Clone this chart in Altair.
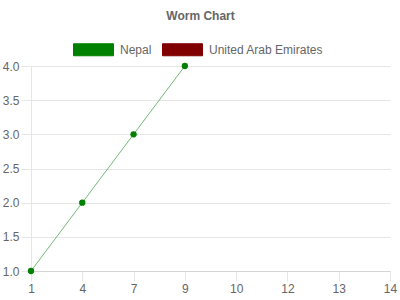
import altair as alt
import pandas as pd

categories = ["1", "4", "7", "9", "10", "12", "13", "14"]
nepal = [1, 2, 3, 4, None, None, None, None]
uae = [None, None, None, None, None, None, None, None]
series_names = ["Nepal", "United Arab Emirates"]
series_colors = ["#008000", "#800000"]

rows = []
for i, c in enumerate(categories):
    rows.append({"cat": c, "series": "Nepal", "value": nepal[i]})
    rows.append({"cat": c, "series": "United Arab Emirates", "value": uae[i]})
df = pd.DataFrame(rows)
df_valid = df.dropna(subset=["value"])

FONT = "Liberation Sans"
GREY = "#666666"

x_enc = alt.X(
    "cat:O",
    sort=categories,
    scale=alt.Scale(domain=categories, type="point", padding=0),
    axis=alt.Axis(
        title=None, labelAngle=0, grid=False, domain=True, domainColor="#d4d4d4",
        ticks=True, tickColor="#e6e6e6", tickSize=10, labelPadding=2,
        labelFont=FONT, labelFontSize=12, labelColor=GREY,
    ),
)
y_enc = alt.Y(
    "value:Q",
    scale=alt.Scale(domain=[1, 4], nice=False, zero=False),
    axis=alt.Axis(
        title=None, values=[1, 1.5, 2, 2.5, 3, 3.5, 4], format=".1f",
        grid=True, gridColor="#e6e6e6", domain=True, domainColor="#e6e6e6",
        ticks=True, tickColor="#e6e6e6", tickSize=10, labelPadding=2,
        labelFont=FONT, labelFontSize=12, labelColor=GREY,
    ),
)
color_enc = alt.Color(
    "series:N",
    scale=alt.Scale(domain=series_names, range=series_colors),
    legend=alt.Legend(
        title=None, orient="none", direction="horizontal",
        legendX=42, legendY=-37, padding=0,
        symbolType="M-1,-0.3H1V0.3H-1Z", symbolSize=1600,
        symbolStrokeWidth=1, symbolOpacity=1,
        labelFont=FONT, labelFontSize=12, labelColor=GREY,
        labelOffset=6, columnPadding=8,
    ),
)

lines = alt.Chart(df_valid).mark_line(strokeWidth=1, opacity=0.55).encode(
    x=x_enc, y=y_enc, color=color_enc, detail="series:N"
)
points = alt.Chart(df_valid).mark_point(filled=True, size=40, opacity=1).encode(
    x=x_enc, y=y_enc,
    color=alt.Color("series:N", scale=alt.Scale(domain=series_names, range=series_colors), legend=None),
)

chart = alt.layer(lines, points).properties(
    width=359, height=205,
    title=alt.TitleParams("Worm Chart", font=FONT, fontSize=12, fontWeight="bold",
                          color=GREY, anchor="middle", dx=-10, offset=6),
    autosize=alt.AutoSizeParams(type="none"),
    padding={"left": 31, "top": 66, "right": 10, "bottom": 29},
).configure_view(stroke=None)

chart.save("out.html", embed_options={"renderer": "svg", "actions": False})
